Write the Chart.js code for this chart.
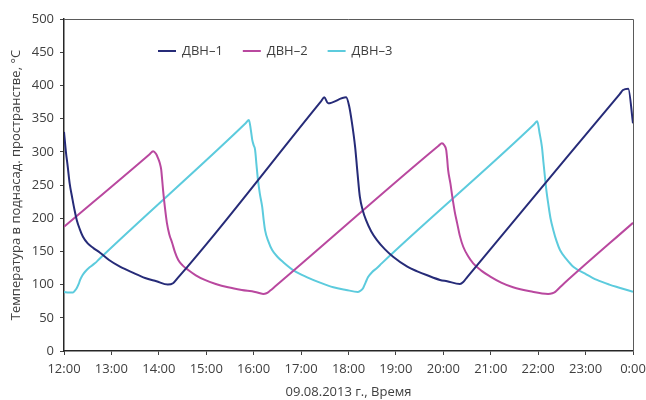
<!DOCTYPE html>
<html>
<head>
<meta charset="utf-8">
<script src="https://cdn.jsdelivr.net/npm/chart.js@4/dist/chart.umd.min.js"></script>
<style>
  html, body { margin: 0; padding: 0; background: #fff; }
  #wrap { width: 646px; height: 400px; position: relative; }
</style>
</head>
<body>
<div id="wrap"><canvas id="c" width="646" height="400"></canvas></div>
<script>
// Hour labels on the time axis (hours after 12:00)
const hourLabels = ['12:00', '13:00', '14:00', '15:00', '16:00', '17:00', '18:00',
                    '19:00', '20:00', '21:00', '22:00', '23:00', '0:00'];

// Series names
const seriesNames = ['ДВН–1', 'ДВН–2', 'ДВН–3'];

// ДВН–1: time (hours after 12:00) and temperature, °C
const dvn1Time = [0.00, 0.04, 0.08, 0.12, 0.17, 0.22, 0.27, 0.33, 0.40, 0.50, 0.62, 0.76, 0.95, 1.18,
                  1.45, 1.71, 1.95, 2.19, 2.30, 2.40, 3.20, 5.42, 5.49, 5.57, 5.95,
                  6.01, 6.07, 6.14, 6.19, 6.24, 6.30, 6.37, 6.48, 6.60, 6.77, 6.94, 7.24, 7.45, 7.66,
                  7.93, 8.08, 8.35, 8.42, 8.50, 11.72, 11.79, 11.90, 12.00];
const dvn1Temp = [330, 300, 277, 252, 232, 213, 197, 184, 172, 162, 155, 148, 137, 127,
                  118, 110, 105, 100, 102, 110, 178, 376, 382, 373, 382,
                  370, 345, 307, 268, 232, 212, 197, 180, 167, 153, 142, 127, 120, 114,
                  107, 105, 101, 104, 111, 387, 393, 395, 343];

// ДВН–2
const dvn2Time = [0.00, 1.80, 1.88, 1.94, 1.98, 2.02, 2.05, 2.07, 2.09, 2.13, 2.17, 2.22, 2.28, 2.34, 2.41,
                  2.50, 2.62, 2.78, 2.97, 3.20, 3.46, 3.75, 4.03, 4.20, 4.27, 4.35, 4.45,
                  7.90, 7.97, 8.02, 8.06, 8.08, 8.10, 8.15, 8.19, 8.24, 8.29, 8.35, 8.42, 8.52, 8.63, 8.80,
                  8.99, 9.22, 9.47, 9.83, 10.21, 10.30, 10.36, 10.46, 10.55, 12.00];
const dvn2Temp = [187, 296, 301, 297, 291, 283, 273, 258, 242, 215, 193, 176, 163, 149, 137,
                  129, 122, 114, 107, 101, 96, 92, 89, 86, 87, 91, 97,
                  309, 313, 310, 303, 290, 273, 252, 232, 210, 193, 173, 157, 143, 132, 121,
                  112, 103, 96, 90, 86, 87, 89, 96, 102, 193];

// ДВН–3
const dvn3Time = [0.00, 0.10, 0.19, 0.23, 0.27, 0.31, 0.34, 0.39, 0.44, 0.54, 0.65, 0.75,
                  3.83, 3.90, 3.94, 3.97, 4.00, 4.03, 4.06, 4.09, 4.13, 4.18, 4.21, 4.24, 4.31, 4.39, 4.50,
                  4.62, 4.85, 5.13, 5.40, 5.68, 5.95, 6.20, 6.26, 6.31, 6.36, 6.41, 6.50, 6.60, 6.70,
                  9.91, 9.98, 10.03, 10.08, 10.11, 10.15, 10.18, 10.21, 10.26, 10.32, 10.39, 10.46, 10.60,
                  10.74, 11.00, 11.24, 11.50, 11.73, 12.00];
const dvn3Temp = [89, 88, 88, 91, 95, 101, 107, 114, 119, 126, 132, 139,
                  343, 348, 333, 318, 310, 303, 280, 258, 237, 217, 198, 182, 165, 152, 142,
                  134, 121, 111, 103, 96, 92, 89, 91, 95, 103, 111, 119, 125, 132,
                  341, 346, 328, 307, 285, 257, 238, 223, 200, 182, 165, 152, 138,
                  127, 116, 107, 100, 95, 89];

const colors = ['#262b78', '#b9489f', '#5ccbdd'];
const textColor = '#404040';
const font = { family: '"Open Sans", "Noto Sans", sans-serif', size: 13 };

function pts(t, v) { return t.map((x, i) => ({ x: x, y: v[i] })); }

// Frame around the plot area (top and right edges)
const framePlugin = {
  id: 'frame',
  beforeDatasetsDraw(chart) {
    const a = chart.chartArea, ctx = chart.ctx;
    ctx.save();
    ctx.strokeStyle = '#5a5a5a';
    ctx.lineWidth = 1;
    ctx.beginPath();
    ctx.moveTo(a.left, a.top + 0.5);
    ctx.lineTo(a.right + 0.5, a.top + 0.5);
    ctx.lineTo(a.right + 0.5, a.bottom);
    ctx.stroke();
    ctx.restore();
  }
};

// Legend drawn inside the plot area
const innerLegend = {
  id: 'innerLegend',
  afterDraw(chart, args, opts) {
    const ctx = chart.ctx;
    ctx.save();
    ctx.font = font.size + 'px ' + font.family;
    ctx.textBaseline = 'middle';
    let x = opts.x;
    chart.data.datasets.forEach(ds => {
      ctx.strokeStyle = ds.borderColor;
      ctx.lineWidth = 2;
      ctx.beginPath();
      ctx.moveTo(x, opts.y);
      ctx.lineTo(x + 18, opts.y);
      ctx.stroke();
      ctx.fillStyle = textColor;
      ctx.fillText(ds.label, x + 24, opts.y + 0.5);
      x += 24 + ctx.measureText(ds.label).width + 20;
    });
    ctx.restore();
  }
};

const series = [[dvn1Time, dvn1Temp], [dvn2Time, dvn2Temp], [dvn3Time, dvn3Temp]];

new Chart(document.getElementById('c'), {
  type: 'line',
  data: {
    datasets: series.map((s, i) => ({
      label: seriesNames[i],
      data: pts(s[0], s[1]),
      borderColor: colors[i],
      backgroundColor: colors[i],
      borderWidth: 2,
      pointRadius: 0,
      cubicInterpolationMode: 'monotone',
      borderJoinStyle: 'round',
      fill: false
    }))
  },
  plugins: [framePlugin, innerLegend],
  options: {
    responsive: false,
    animation: false,
    events: [],
    layout: { padding: { left: 4, right: 13, top: 19, bottom: 0 } },
    plugins: {
      legend: { display: false },
      tooltip: { enabled: false },
      innerLegend: { x: 158, y: 51 }
    },
    scales: {
      x: {
        type: 'linear',
        min: 0,
        max: 12,
        afterFit(scale) { scale.height = 49; scale.paddingRight = 0; scale.paddingLeft = 0; },
        ticks: {
          stepSize: 1,
          autoSkip: false,
          maxRotation: 0,
          padding: 6,
          color: textColor,
          font: font,
          callback: (v) => hourLabels[Math.round(v)]
        },
        grid: { display: true, drawOnChartArea: false, drawTicks: true, tickLength: 4, color: '#404040' },
        border: { display: true, color: '#262626', width: 1.5 },
        title: {
          display: true,
          text: '09.08.2013 г., Время',
          color: textColor,
          font: font,
          padding: { top: 0, bottom: 0 }
        }
      },
      y: {
        min: 0,
        max: 500,
        afterFit(scale) { scale.width = 60; },
        ticks: { stepSize: 50, padding: 6, color: textColor, font: font },
        grid: { display: true, drawOnChartArea: false, drawTicks: true, tickLength: 4, color: '#404040' },
        border: { display: true, color: '#262626', width: 1.5 },
        title: {
          display: true,
          text: 'Температура в поднасад. пространстве, °С',
          color: textColor,
          font: font,
          padding: { top: 4, bottom: 0 }
        }
      }
    }
  }
});
</script>
</body>
</html>
